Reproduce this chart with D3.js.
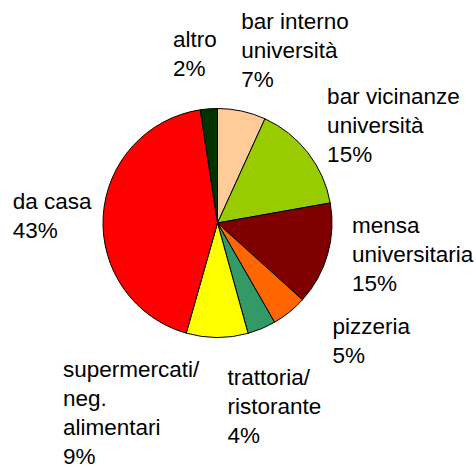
<!doctype html>
<html lang="it">
<head>
<meta charset="utf-8">
<title>Pie</title>
<script src="https://cdn.jsdelivr.net/npm/d3@7"></script>
<style>
  body { margin: 0; background: #fff; }
  text { font-family: "Liberation Sans", Arial, sans-serif; font-size: 22.5px; fill: #000; }
</style>
</head>
<body>
<div id="chart"></div>
<script>

var width = 476;
var height = 467;

// data, clockwise from 12 o'clock
var categories = ["bar interno\nuniversità", "bar vicinanze\nuniversità", "mensa\nuniversitaria", "pizzeria",
                  "trattoria/\nristorante", "supermercati/\nneg.\nalimentari", "da casa", "altro"];
var shares = [6.8, 15.4, 14.5, 5.0, 4.0, 8.7, 43.2, 2.4];
var colors = ["#FFCC99", "#99CC00", "#800000", "#FF6600", "#339966", "#FFFF00", "#FF0000", "#003300"];

// label nudges from the label-arc point (first line baseline, left edge)
var nudges = [[-6, -57], [-1, -33], [0, -29], [27, 2], [-44, 33], [-154, 14], [-65, -5], [-34, -36]];

var cx = 217.5, cy = 223, radius = 114.5;
var lineHeight = 29;

var svg = d3.select("#chart").append("svg")
    .attr("width", width)
    .attr("height", height);

var g = svg.append("g")
    .attr("transform", "translate(" + cx + "," + cy + ")");

var pie = d3.pie().sort(null).value(function(d) { return d; });
var arcs = pie(shares);

var arc = d3.arc().innerRadius(0).outerRadius(radius);
var labelArc = d3.arc().innerRadius(140).outerRadius(140);

g.selectAll("path")
    .data(arcs)
  .enter().append("path")
    .attr("d", arc)
    .attr("fill", function(d, i) { return colors[i]; })
    .attr("stroke", "#000")
    .attr("stroke-width", 1);

var labels = g.selectAll("text.lbl")
    .data(arcs)
  .enter().append("text")
    .attr("class", "lbl")
    .attr("transform", function(d, i) {
        var p = labelArc.centroid(d);
        return "translate(" + (p[0] + nudges[i][0]) + "," + (p[1] + nudges[i][1]) + ")";
    });

labels.each(function(d, i) {
    var lines = categories[i].split("\n");
    lines.push(Math.round(d.data) + "%");
    d3.select(this).selectAll("tspan")
        .data(lines)
      .enter().append("tspan")
        .attr("x", 0)
        .attr("y", function(l, j) { return j * lineHeight; })
        .text(function(l) { return l; });
});

</script>
</body>
</html>
